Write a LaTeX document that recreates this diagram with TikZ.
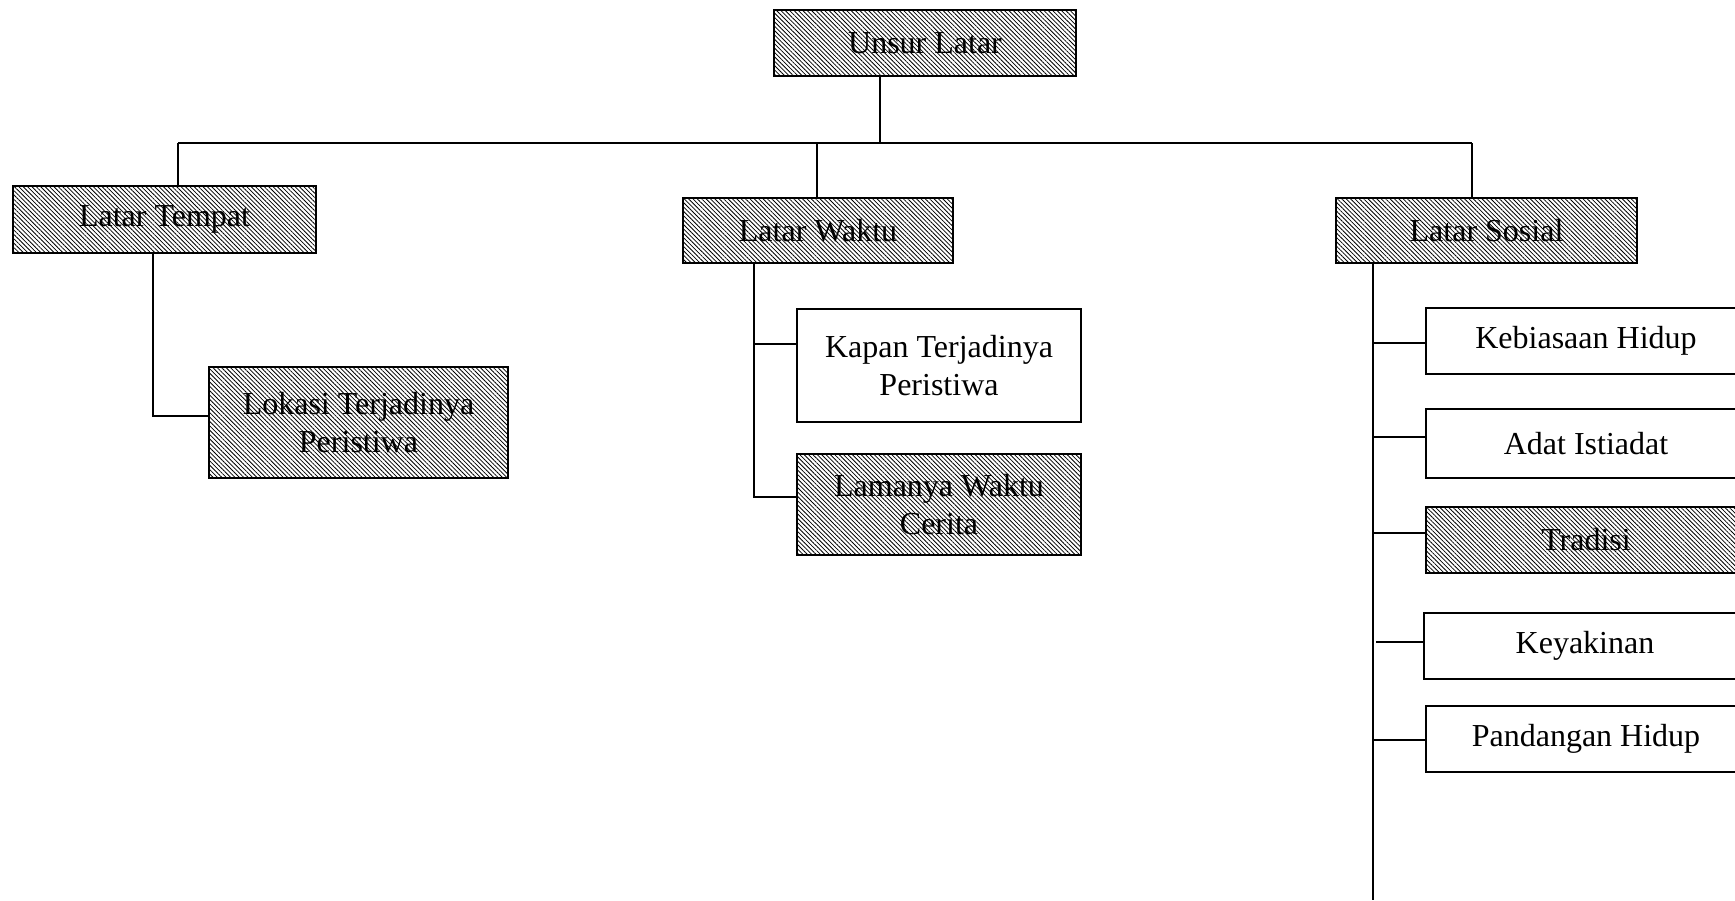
\documentclass[tikz,border=0pt]{standalone}
\usepackage{fontspec}
\setmainfont{Liberation Serif}
\usetikzlibrary{patterns.meta}
\begin{document}
\begin{tikzpicture}[x=1pt,y=-1pt,
  box/.style={draw=black, line width=1.6pt, rectangle, inner sep=0pt, align=center,
    font=\fontsize{32}{38}\selectfont},
  hatched/.style={box, pattern={Lines[angle=-45,distance=3.1pt,line width=0.8pt]}},
  plain/.style={box, fill=white},
  conn/.style={line width=1.6pt, black}]
\useasboundingbox (0,0) rectangle (1735,900);
% nodes
\node[hatched, minimum width=302pt, minimum height=66pt] (root) at (925,43) {Unsur Latar};
\node[hatched, minimum width=303pt, minimum height=67pt] (tempat) at (164.5,219.5) {Latar Tempat};
\node[hatched, minimum width=270pt, minimum height=65pt] (waktu) at (818,230.5) {Latar Waktu};
\node[hatched, minimum width=301pt, minimum height=65pt] (sosial) at (1486.5,230.5) {Latar Sosial};
\node[hatched, minimum width=299pt, minimum height=111pt] (lokasi) at (358.5,422.5) {Lokasi Terjadinya\\Peristiwa};
\node[plain, minimum width=284pt, minimum height=113pt] (kapan) at (939,365.5) {Kapan Terjadinya\\Peristiwa};
\node[hatched, minimum width=284pt, minimum height=101pt] (lamanya) at (939,504.5) {Lamanya Waktu\\Cerita};
\node[plain, minimum width=320pt, minimum height=66pt] (kebiasaan) at (1586,341) {Kebiasaan Hidup};
\node[plain, minimum width=320pt, minimum height=69pt] (adat) at (1586,443.5) {Adat Istiadat};
\node[hatched, minimum width=320pt, minimum height=66pt] (tradisi) at (1586,540) {Tradisi};
\node[plain, minimum width=322pt, minimum height=66pt] (keyakinan) at (1585,646) {Keyakinan};
\node[plain, minimum width=320pt, minimum height=66pt] (pandangan) at (1586,739) {Pandangan Hidup};
% coordinates
\coordinate (bus) at (880,143);
\coordinate (tA) at (178,143);
\coordinate (tB) at (817,143);
\coordinate (tC) at (1472,143);
\coordinate (lk) at (153,416);
\coordinate (wv) at (754,497);
\coordinate (wk) at (754,344);
\coordinate (sv) at (1373,900);
% top connectors
\draw[conn] (root.south -| bus) -- (bus);
\draw[conn] (tA) -- (tC);
\draw[conn] (tA) -- (tA |- tempat.north);
\draw[conn] (tB) -- (tB |- waktu.north);
\draw[conn] (tC) -- (tC |- sosial.north);
% tempat
\draw[conn] (lk |- tempat.south) |- (lokasi.west |- lk);
% waktu
\draw[conn] (wv |- waktu.south) |- (lamanya.west |- wv);
\draw[conn] (wk) -- (kapan.west |- wk);
% sosial
\draw[conn] (sv |- sosial.south) -- (sv);
\draw[conn] (1373,343) -- (kebiasaan.west |- 0,343);
\draw[conn] (1373,437) -- (adat.west |- 0,437);
\draw[conn] (1373,533) -- (tradisi.west |- 0,533);
\draw[conn] (1376,642) -- (keyakinan.west |- 0,642);
\draw[conn] (1373,740) -- (pandangan.west |- 0,740);
\end{tikzpicture}
\end{document}
